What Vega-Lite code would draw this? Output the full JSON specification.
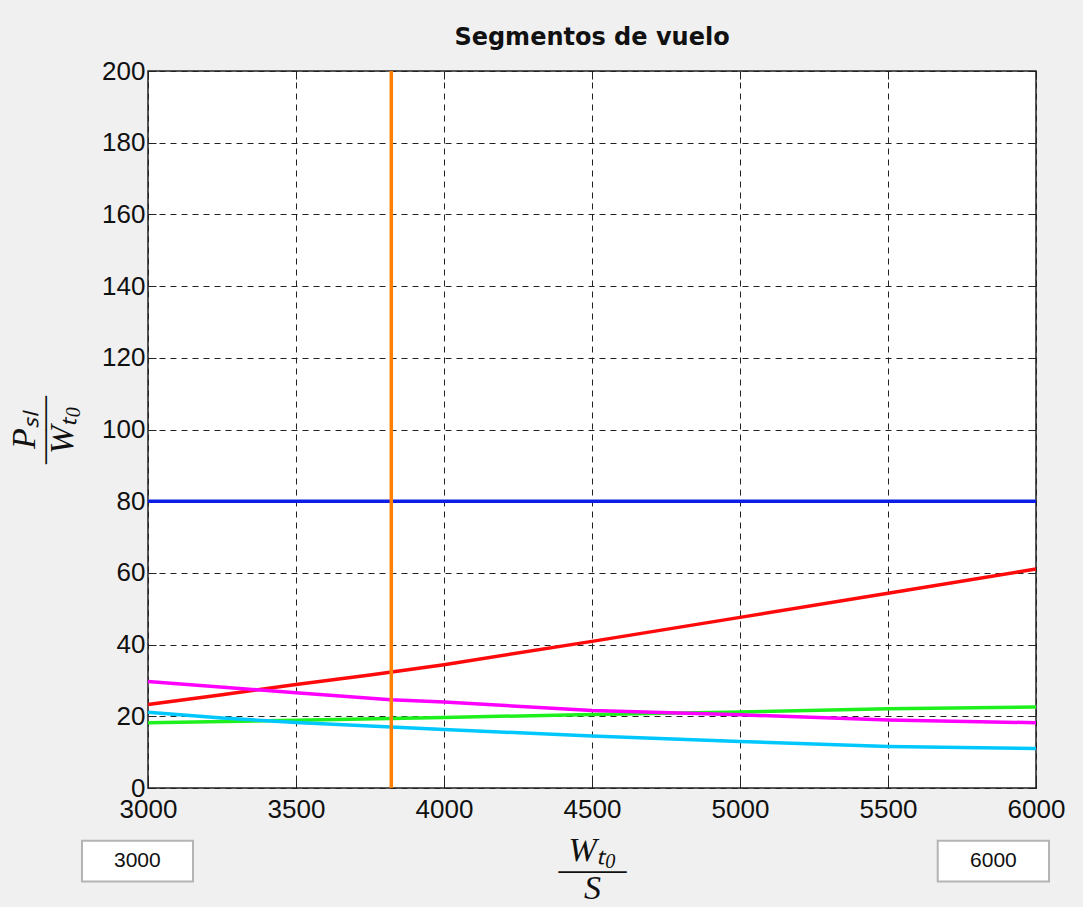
{
  "$schema": "https://vega.github.io/schema/vega-lite/v6.json",
  "width": 888,
  "height": 717,
  "autosize": {"type": "none"},
  "padding": {"left": 148, "top": 71, "right": 47, "bottom": 119},
  "background": "#f0f0f0",
  "title": {"text": "Segmentos de vuelo", "font": "DejaVu Sans", "fontSize": 24, "fontWeight": "bold", "color": "#111111", "offset": 8, "anchor": "middle"},
  "config": {
    "view": {"fill": "white", "stroke": "#222222", "strokeWidth": 1.5},
    "axis": {
      "labelFont": "Liberation Sans", "labelFontSize": 26, "labelColor": "#111111",
      "domain": false, "tickColor": "#222222", "tickSize": -8, "tickWidth": 1,
      "gridColor": "#222222", "gridDash": [6, 5], "gridOpacity": 1, "gridWidth": 1,
      "titleFont": "Liberation Serif", "titleFontStyle": "italic", "titleFontWeight": "normal",
      "titleFontSize": 34, "titleColor": "#111111", "labelOverlap": false, "format": "d"
    }
  },
  "datasets": {
    "lines": [
      {"serie": "azul", "x": 3000, "y": 80}, {"serie": "azul", "x": 6000, "y": 80},
      {"serie": "rojo", "x": 3000, "y": 23.3}, {"serie": "rojo", "x": 3250, "y": 26.0}, {"serie": "rojo", "x": 3500, "y": 28.9}, {"serie": "rojo", "x": 3750, "y": 31.5}, {"serie": "rojo", "x": 4000, "y": 34.4}, {"serie": "rojo", "x": 4500, "y": 40.9}, {"serie": "rojo", "x": 5000, "y": 47.6}, {"serie": "rojo", "x": 5500, "y": 54.3}, {"serie": "rojo", "x": 6000, "y": 61.1},
      {"serie": "verde", "x": 3000, "y": 18.2}, {"serie": "verde", "x": 3500, "y": 18.9}, {"serie": "verde", "x": 4000, "y": 19.7}, {"serie": "verde", "x": 4500, "y": 20.5}, {"serie": "verde", "x": 5000, "y": 21.2}, {"serie": "verde", "x": 5500, "y": 22.1}, {"serie": "verde", "x": 6000, "y": 22.6},
      {"serie": "magenta", "x": 3000, "y": 29.7}, {"serie": "magenta", "x": 3500, "y": 26.6}, {"serie": "magenta", "x": 3820, "y": 24.6}, {"serie": "magenta", "x": 4000, "y": 24.0}, {"serie": "magenta", "x": 4500, "y": 21.6}, {"serie": "magenta", "x": 5000, "y": 20.4}, {"serie": "magenta", "x": 5500, "y": 19.0}, {"serie": "magenta", "x": 6000, "y": 18.2},
      {"serie": "cian", "x": 3000, "y": 21.1}, {"serie": "cian", "x": 3250, "y": 19.5}, {"serie": "cian", "x": 3500, "y": 18.3}, {"serie": "cian", "x": 4000, "y": 16.3}, {"serie": "cian", "x": 4500, "y": 14.5}, {"serie": "cian", "x": 5000, "y": 13.0}, {"serie": "cian", "x": 5500, "y": 11.6}, {"serie": "cian", "x": 6000, "y": 11.0}
    ],
    "vline": [{"x": 3822}],
    "boxes": [
      {"label": "3000", "x1": 2777, "x2": 3152, "xm": 2964, "y1": -14.7, "y2": -26.1, "ym": -20.4},
      {"label": "6000", "x1": 5668, "x2": 6044, "xm": 5856, "y1": -14.7, "y2": -26.1, "ym": -20.4}
    ]
  },
  "resolve": {"axis": {"x": "independent", "y": "independent"}},
  "layer": [
    {
      "data": {"name": "lines"},
      "mark": {"type": "line", "strokeWidth": 3.5, "interpolate": "linear"},
      "encoding": {
        "x": {"field": "x", "type": "quantitative", "scale": {"domain": [3000, 6000], "nice": false},
          "axis": {"orient": "bottom", "values": [3000, 3500, 4000, 4500, 5000, 5500, 6000], "labelFlush": false, "labelPadding": 16,
            "title": ["Wₜ₀", "――", "S"], "titleLineHeight": 19, "titlePadding": 11}},
        "y": {"field": "y", "type": "quantitative", "scale": {"domain": [0, 200], "nice": false},
          "axis": {"orient": "left", "values": [0, 20, 40, 60, 80, 100, 120, 140, 160, 180, 200], "labelPadding": 11,
            "title": ["Pₛₗ", "――", "Wₜ₀"], "titleLineHeight": 19, "titlePadding": 22}},
        "color": {"field": "serie", "type": "nominal", "legend": null,
          "scale": {"domain": ["azul", "rojo", "verde", "magenta", "cian"], "range": ["#0a1ee6", "#ff0a0a", "#1ef01e", "#ff00ff", "#00c8ff"]}}
      }
    },
    {
      "data": {"name": "vline"},
      "mark": {"type": "rule", "color": "#ff8000", "strokeWidth": 3.5},
      "encoding": {
        "x": {"field": "x", "type": "quantitative", "scale": {"domain": [3000, 6000], "nice": false}, "axis": null}
      }
    },
    {
      "data": {"name": "boxes"},
      "mark": {"type": "rect", "fill": "white", "stroke": "#b4b4b4", "strokeWidth": 2, "clip": false},
      "encoding": {
        "x": {"field": "x1", "type": "quantitative", "scale": {"domain": [3000, 6000], "nice": false}, "axis": null},
        "x2": {"field": "x2"},
        "y": {"field": "y1", "type": "quantitative", "scale": {"domain": [0, 200], "nice": false}, "axis": null},
        "y2": {"field": "y2"}
      }
    },
    {
      "data": {"name": "boxes"},
      "mark": {"type": "text", "font": "Liberation Sans", "fontSize": 21, "color": "#111111", "align": "center", "baseline": "middle", "clip": false},
      "encoding": {
        "x": {"field": "xm", "type": "quantitative", "scale": {"domain": [3000, 6000], "nice": false}, "axis": null},
        "y": {"field": "ym", "type": "quantitative", "scale": {"domain": [0, 200], "nice": false}, "axis": null},
        "text": {"field": "label"}
      }
    },
    {
      "data": {"name": "lines"},
      "mark": {"type": "point", "opacity": 0},
      "encoding": {
        "x": {"field": "x", "type": "quantitative", "scale": {"domain": [3000, 6000], "nice": false},
          "axis": {"orient": "top", "values": [3000, 3500, 4000, 4500, 5000, 5500, 6000], "labels": false, "grid": false, "title": null}},
        "y": {"field": "y", "type": "quantitative", "scale": {"domain": [0, 200], "nice": false},
          "axis": {"orient": "right", "values": [0, 20, 40, 60, 80, 100, 120, 140, 160, 180, 200], "labels": false, "grid": false, "title": null}}
      }
    }
  ]
}
